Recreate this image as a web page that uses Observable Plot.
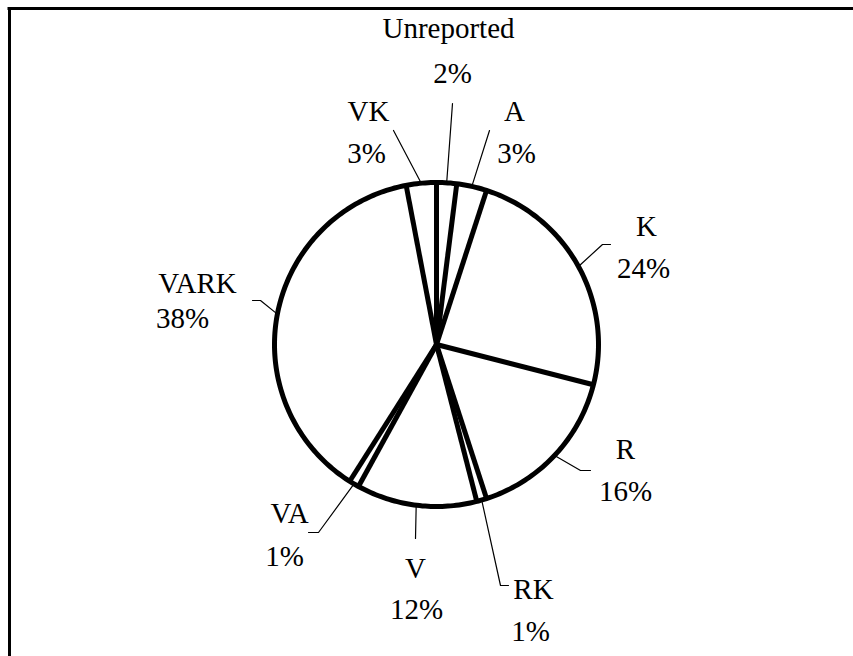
<!DOCTYPE html>
<html><head><meta charset="utf-8">
<script src="https://cdn.jsdelivr.net/npm/d3@7"></script>
<script src="https://cdn.jsdelivr.net/npm/@observablehq/plot@0.6"></script>
<style>html,body{margin:0;padding:0;background:#fff}</style>
</head><body><div id="chart"></div>
<script>
// ---- data ----
const categories = ["Unreported", "A", "K", "R", "RK", "V", "VA", "VARK", "VK"];
const percents   = [2, 3, 24, 16, 1, 12, 1, 38, 3];

// ---- layout (pixels, label placement only) ----
const W = 853, H = 656, CX = 436, CY = 344, RAD = 162;
// name/pct text centre x and baseline y, leader path (from label end toward arc)
const labelLayout = {
  "Unreported": {nx: 448, ny: 37,  px: 452, py: 82,  lead: [[452, 103]]},
  "A":          {nx: 514, ny: 120, px: 516, py: 162, lead: [[489, 130]]},
  "K":          {nx: 646, ny: 235, px: 643, py: 277, lead: [[610, 244], [602, 244]]},
  "R":          {nx: 625, ny: 458, px: 625, py: 500, lead: [[590, 470], [580, 470]]},
  "RK":         {nx: 533, ny: 598, px: 530, py: 640, lead: [[508, 585], [500, 585]]},
  "V":          {nx: 415, ny: 577, px: 416, py: 618, lead: [[415, 538]]},
  "VA":         {nx: 289, ny: 522, px: 284, py: 565, lead: [[308, 532], [318, 532]]},
  "VARK":       {nx: 197, ny: 292, px: 182, py: 327, lead: [[252, 300], [260, 300]]},
  "VK":         {nx: 368, ny: 120, px: 366, py: 162, lead: [[393, 130]]}
};
const FS = 29;
const ux = (x) => (x - CX) / RAD;
const uy = (y) => (CY - y) / RAD;
const base = (b) => uy(b - 0.32 * FS);

// ---- derived geometry from data ----
const total = d3.sum(percents);
let acc = 0;
const slices = categories.map((c, i) => {
  const a0 = acc / total * 2 * Math.PI;
  acc += percents[i];
  const a1 = acc / total * 2 * Math.PI;
  return {name: c, pct: percents[i], a0, a1, mid: (a0 + a1) / 2};
});
const circle = d3.range(0, 361).map(d => {
  const a = d / 360 * 2 * Math.PI;
  return {x: Math.sin(a), y: Math.cos(a)};
});
const separators = slices.map(s => ({x: Math.sin(s.a0), y: Math.cos(s.a0)}));
const leaders = [];
slices.forEach(s => {
  const L = labelLayout[s.name];
  L.lead.forEach(p => leaders.push({name: s.name, x: ux(p[0]), y: uy(p[1])}));
  leaders.push({name: s.name, x: Math.sin(s.mid), y: Math.cos(s.mid)});
});
const names = slices.map(s => ({t: s.name, x: ux(labelLayout[s.name].nx), y: base(labelLayout[s.name].ny)}));
const pcts  = slices.map(s => ({t: s.pct + "%", x: ux(labelLayout[s.name].px), y: base(labelLayout[s.name].py)}));

const chart = Plot.plot({
  width: W, height: H,
  margin: 0,
  x: {domain: [ux(0), ux(W)], axis: null},
  y: {domain: [uy(H), uy(0)], axis: null},
  style: {background: "#fff"},
  marks: [
    Plot.ruleX([ux(9)], {y1: uy(7), y2: uy(H), stroke: "#000", strokeWidth: 3}),
    Plot.ruleY([uy(8)], {x1: ux(7.5), x2: ux(W), stroke: "#000", strokeWidth: 3}),
    Plot.line(leaders, {x: "x", y: "y", z: "name", stroke: "#000", strokeWidth: 1.2}),
    Plot.link(separators, {x1: () => 0, y1: () => 0, x2: "x", y2: "y", stroke: "#000", strokeWidth: 5}),
    Plot.line(circle, {x: "x", y: "y", stroke: "#000", strokeWidth: 5}),
    Plot.text(names, {x: "x", y: "y", text: "t", fontSize: FS, fontFamily: "'Liberation Serif', 'Times New Roman', serif", fill: "#000"}),
    Plot.text(pcts, {x: "x", y: "y", text: "t", fontSize: FS, fontFamily: "'Liberation Serif', 'Times New Roman', serif", fill: "#000"})
  ]
});
document.getElementById("chart").appendChild(chart);
</script>
</body></html>
